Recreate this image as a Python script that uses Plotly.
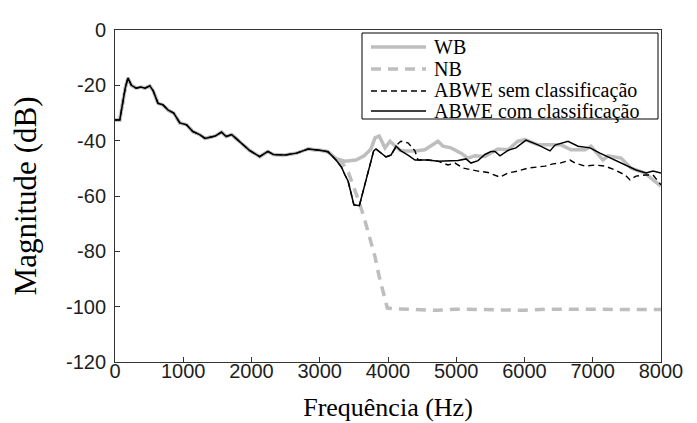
import plotly.graph_objects as go

# ---------------- data ----------------
# shared low band (all four curves coincide)
freq_common = [0, 70, 150, 190, 240, 310, 380, 440, 510, 560, 630, 700, 780, 860, 950,
               1050, 1140, 1240, 1320, 1400, 1470, 1560, 1630, 1710, 1850, 1970, 2120,
               2240, 2320, 2490, 2660, 2830, 3000, 3120]
mag_common = [-32.5, -32.5, -21, -17.3, -20, -21, -20.6, -21, -20.2, -22, -26.5, -27, -29,
              -30, -33.6, -34.3, -36.7, -37.8, -39.2, -38.7, -38.3, -36.9, -38.5, -37.8,
              -40.8, -43.5, -45.8, -43.9, -45, -45.2, -44.5, -43, -43.5, -44]

wb_freq = [3240, 3370, 3530, 3650, 3750, 3810, 3870, 3956, 4029, 4102, 4176, 4250, 4400,
           4540, 4660, 4733, 4806, 4923, 5070, 5172, 5275, 5420, 5612, 5758, 5905, 6007,
           6198, 6388, 6535, 6681, 6886, 6974, 7080, 7150, 7223, 7414, 7560, 7765, 7883, 8000]
wb_mag = [-46.5, -47.4, -47, -45.5, -43, -39, -38.3, -42.6, -40.2, -42, -43.5, -43.7, -43.7,
          -43.3, -41.6, -40.2, -42, -42.6, -44.5, -46.3, -45.5, -45.7, -43, -43.3, -40.2,
          -39.6, -41.5, -41.5, -41.5, -43.3, -43.3, -42, -45, -47, -45.5, -46.3, -49.9,
          -51.7, -54.2, -56.4]

nb_freq = [3240, 3330, 3420, 3490, 3560, 3640, 3736, 3810, 3870, 3930, 3990, 4150, 4400,
           4700, 5000, 5300, 5600, 6000, 6300, 6600, 6900, 7200, 7500, 8000]
nb_mag = [-46.5, -48, -51.5, -56, -61, -67, -76, -82, -89, -95, -100.5, -100.8, -101,
          -101.3, -100.9, -101, -101.1, -101.3, -100.9, -101, -101.1, -100.9, -101, -101]

sem_freq = [3238, 3317, 3370, 3414, 3458, 3500, 3580, 3678, 3751, 3790, 3824, 3897, 3971,
            4044, 4117, 4150, 4190, 4293, 4395, 4440, 4586, 4733, 4879, 4982, 5099, 5216,
            5319, 5465, 5641, 5758, 5900, 6051, 6300, 6417, 6520, 6667, 6740, 6886, 7033,
            7179, 7326, 7473, 7546, 7634, 7765, 7883, 8000]
sem_mag = [-47, -49.5, -52.4, -54.5, -58.9, -63.2, -63.5, -54.6, -48, -43.7, -43, -44.5,
           -45.9, -45.2, -42, -41, -40.2, -40.8, -43.7, -47, -47, -47.4, -48.8, -48.1,
           -49.9, -50.6, -51, -51.5, -53.2, -51.7, -51, -49.9, -49.2, -48.4, -48.1, -47,
           -48.1, -49.2, -48.8, -49.2, -50.6, -52.4, -54.2, -52.8, -52.4, -52.4, -56]

com_freq = [3238, 3317, 3370, 3414, 3458, 3500, 3580, 3678, 3751, 3790, 3824, 3897, 3971,
            4044, 4117, 4190, 4293, 4395, 4483, 4586, 4733, 4879, 5026, 5143, 5216, 5319,
            5420, 5509, 5568, 5641, 5758, 5875, 6022, 6198, 6374, 6447, 6637, 6784, 6960,
            7106, 7267, 7473, 7634, 7780, 7883, 8000]
com_mag = [-47, -49.5, -52.4, -54.5, -58.9, -63.2, -63.5, -54.6, -48, -43.7, -43, -44.5,
           -45.9, -45.2, -42, -43.7, -45.2, -47, -47, -47, -47.4, -47.4, -47.2, -46.6,
           -48.1, -47.2, -45, -43.9, -43.9, -45.5, -43.5, -42.6, -39.8, -41.5, -43.7,
           -41.6, -40.2, -42, -42.6, -44.5, -46.3, -48.8, -50.6, -51.7, -51, -51.7]

series_names = ["WB", "NB", "ABWE sem classificação", "ABWE com classificação"]
x_ticks = [0, 1000, 2000, 3000, 4000, 5000, 6000, 7000, 8000]
y_ticks = [0, -20, -40, -60, -80, -100, -120]
x_title = "Frequência (Hz)"
y_title = "Magnitude (dB)"

# ---------------- styles ----------------
GRAY = "rgb(190,190,190)"
styles = [
    dict(color=GRAY, width=3.5, dash="solid"),
    dict(color=GRAY, width=3.5, dash="10px,7px"),
    dict(color="black", width=1.4, dash="6px,4px"),
    dict(color="black", width=1.5, dash="solid"),
]
SERIF = "Liberation Serif, Times New Roman, serif"
SANS = "Liberation Sans, Arial, sans-serif"

W, H = 697, 423
L, R, T, B = 107, 44, 22, 69
PW, PH = W - L - R, H - T - B

fig = go.Figure()
data = [(wb_freq, wb_mag), (nb_freq, nb_mag), (sem_freq, sem_mag), (com_freq, com_mag)]
for name, (fx, my), st in zip(series_names, data, styles):
    fig.add_trace(go.Scatter(
        x=freq_common + fx, y=mag_common + my, mode="lines", name=name,
        line=dict(color=st["color"], width=st["width"], dash=st["dash"]),
        showlegend=False, hoverinfo="skip"))

# ---------------- manual legend (box + samples + labels) ----------------
def px(xp):
    return (xp - L) / PW

def py(yp):
    return (H - B - yp) / PH

shapes = [dict(type="rect", xref="paper", yref="paper",
               x0=px(354), x1=px(650), y0=py(111), y1=py(25),
               line=dict(color="black", width=1), fillcolor="white", layer="above")]
annotations = []
rows = [39, 61, 83, 103]
for name, st, ry in zip(series_names, styles, rows):
    shapes.append(dict(type="line", xref="paper", yref="paper",
                       x0=px(363), x1=px(418), y0=py(ry), y1=py(ry),
                       line=dict(color=st["color"], width=st["width"], dash=st["dash"]),
                       layer="above"))
    annotations.append(dict(xref="paper", yref="paper", x=px(424), y=py(ry),
                            xanchor="left", yanchor="middle", showarrow=False,
                            text=name, font=dict(family=SERIF, size=20, color="black")))

axis_common = dict(showline=True, linecolor="rgb(50,50,50)", linewidth=1, mirror=True,
                   ticks="inside", ticklen=5, tickcolor="rgb(50,50,50)", tickwidth=1,
                   showgrid=False, zeroline=False,
                   tickfont=dict(family=SANS, size=20, color="rgb(30,30,30)"))

fig.update_layout(
    width=W, height=H,
    margin=dict(l=L, r=R, t=T, b=B, autoexpand=False),
    paper_bgcolor="white", plot_bgcolor="white",
    xaxis=dict(range=[0, 8000], tickvals=x_ticks, ticktext=[str(v) for v in x_ticks],
               ticklabelstandoff=-9,
               title=dict(text=x_title, font=dict(family=SERIF, size=26, color="black"),
                          standoff=16),
               **axis_common),
    yaxis=dict(range=[-120, 0], tickvals=y_ticks, ticktext=[str(v) for v in y_ticks],
               ticklabelstandoff=4,
               title=dict(text=y_title, font=dict(family=SERIF, size=31, color="black"),
                          standoff=20),
               **axis_common),
    shapes=shapes, annotations=annotations,
)

fig.write_html("out.html")
